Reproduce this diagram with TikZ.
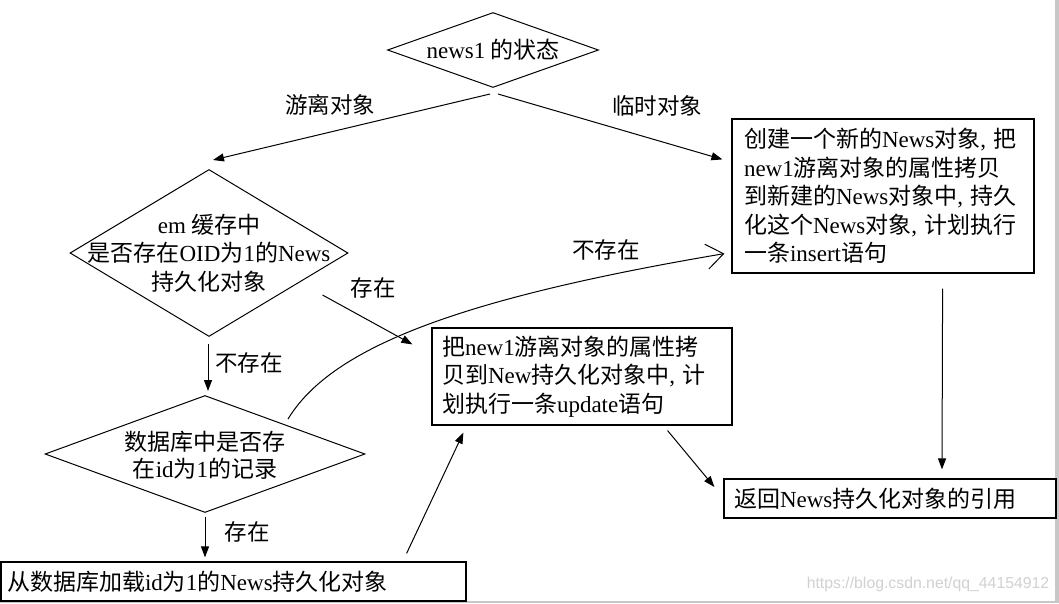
\documentclass[tikz,border=0pt]{standalone}
\usepackage{fontspec}
\setmainfont{Noto Sans CJK SC}
\newfontfamily\latfont{Liberation Serif}
\newfontfamily\wmfont{Liberation Sans}
\usetikzlibrary{shapes.geometric,arrows.meta,calc}
\newcommand\E[1]{{\latfont #1}}
\begin{document}
\begin{tikzpicture}[x=1pt,y=-1pt,
  txt/.style={font=\fontsize{23}{28.5}\selectfont, inner sep=0pt},
  lbl/.style={font=\fontsize{22.5}{27}\selectfont, inner sep=0pt},
  dia/.style={draw, shape=diamond, line width=1pt, inner sep=0pt},
  box/.style={draw, line width=1.2pt, align=left, font=\fontsize{23}{28.5}\selectfont},
  arr/.style={line width=1pt, -{Triangle[length=11pt,width=8pt]}},
  openarr/.style={line width=1pt, -{Straight Barb[length=17pt,width=25pt]}}]
\useasboundingbox (0,0) rectangle (1059,603);
\fill[white] (0,0) rectangle (1059,603);
% borders of screenshot
\fill[black!22] (1055,0) rectangle (1059,603);
\fill[black!22] (0,601) rectangle (1059,603);

% diamonds
\node[dia, minimum width=211pt, minimum height=75pt] (d1) at (493,50) {};
\node[txt] (d1t) at (493,50) {\E{news1} 的状态};

\node[dia, minimum width=278pt, minimum height=167pt] (d2) at (209,253) {};
\node[txt, align=center] (d2t) at (209,253) {\E{em} 缓存中\\是否存在\E{OID}为\E{1}的\E{News}\\持久化对象};

\node[dia, minimum width=320pt, minimum height=117pt] (d3) at (205,454) {};
\node[txt, align=center, font=\fontsize{23}{27}\selectfont] (d3t) at (205,455) {数据库中是否存\\在\E{id}为\E{1}的记录};

% boxes
\node[box, minimum width=302pt, minimum height=154pt, text width=278pt, inner xsep=12pt] (b1) at (883,196)
 {创建一个新的\E{News}对象\E{,} 把\\\E{new1}游离对象的属性拷贝\\到新建的\E{News}对象中\E{,} 持久\\化这个\E{News}对象\E{,} 计划执行\\一条\E{insert}语句};

\node[box, minimum width=300pt, minimum height=97pt, text width=280pt, inner xsep=10pt] (b2) at (582,376.5)
 {把\E{new1}游离对象的属性拷\\贝到\E{New}持久化对象中\E{,} 计\\划执行一条\E{update}语句};

\node[box, minimum width=332pt, minimum height=39pt, text width=312pt, inner xsep=10pt, inner ysep=0pt] (ret) at (890,498.5)
 {返回\E{News}持久化对象的引用};

\node[box, minimum width=465pt, minimum height=39pt, text width=453pt, inner xsep=6pt, inner ysep=0pt] (bb) at (233.5,581.5)
 {从数据库加载\E{id}为\E{1}的\E{News}持久化对象};

% connectors
\draw[arr] ([shift={(-3,6)}]d1.south) -- ([shift={(4,-9)}]d2.north);
\draw[arr] ([shift={(5,6)}]d1.south) -- ([shift={(-9,41)}]b1.north west);
\draw[arr] ([shift={(-1,7)}]d2.south) -- ([shift={(3,-4)}]d3.north);
\draw[arr] ([shift={(-26,42)}]d2.east) -- ([shift={(-19,17)}]b2.north west);
\draw[arr] ($(d3.south)+(0,4)$) -- ($(d3.south |- bb.north)+(0,-4)$);
\draw[arr] ([shift={(-60,-8)}]bb.north east) -- ([shift={(32,7)}]b2.south west);
\draw[arr] ([shift={(-65,5)}]b2.south east) -- ([shift={(-9,-11.5)}]ret.west);
\draw[arr] ([shift={(-92,15)}]b1.south east) -- ([shift={(52,-9)}]ret.north);
\draw[openarr] ([shift={(83,24)}]d3.north) .. controls (330,350) and (450,300) .. ([shift={(-7,-20)}]b1.south west);

% labels
\node[lbl] (l1) at (330,105) {游离对象};
\node[lbl] (l2) at (657,106) {临时对象};
\node[lbl] (l3) at (249,363) {不存在};
\node[lbl] (l4) at (373,288) {存在};
\node[lbl] (l5) at (606,250) {不存在};
\node[lbl] (l6) at (247,532) {存在};

% watermark
\node[font=\wmfont\fontsize{15.8}{18}\selectfont, text=black!18, inner sep=0pt] (wm) at (928,584) {https://blog.csdn.net/qq\_44154912};
\end{tikzpicture}
\end{document}
